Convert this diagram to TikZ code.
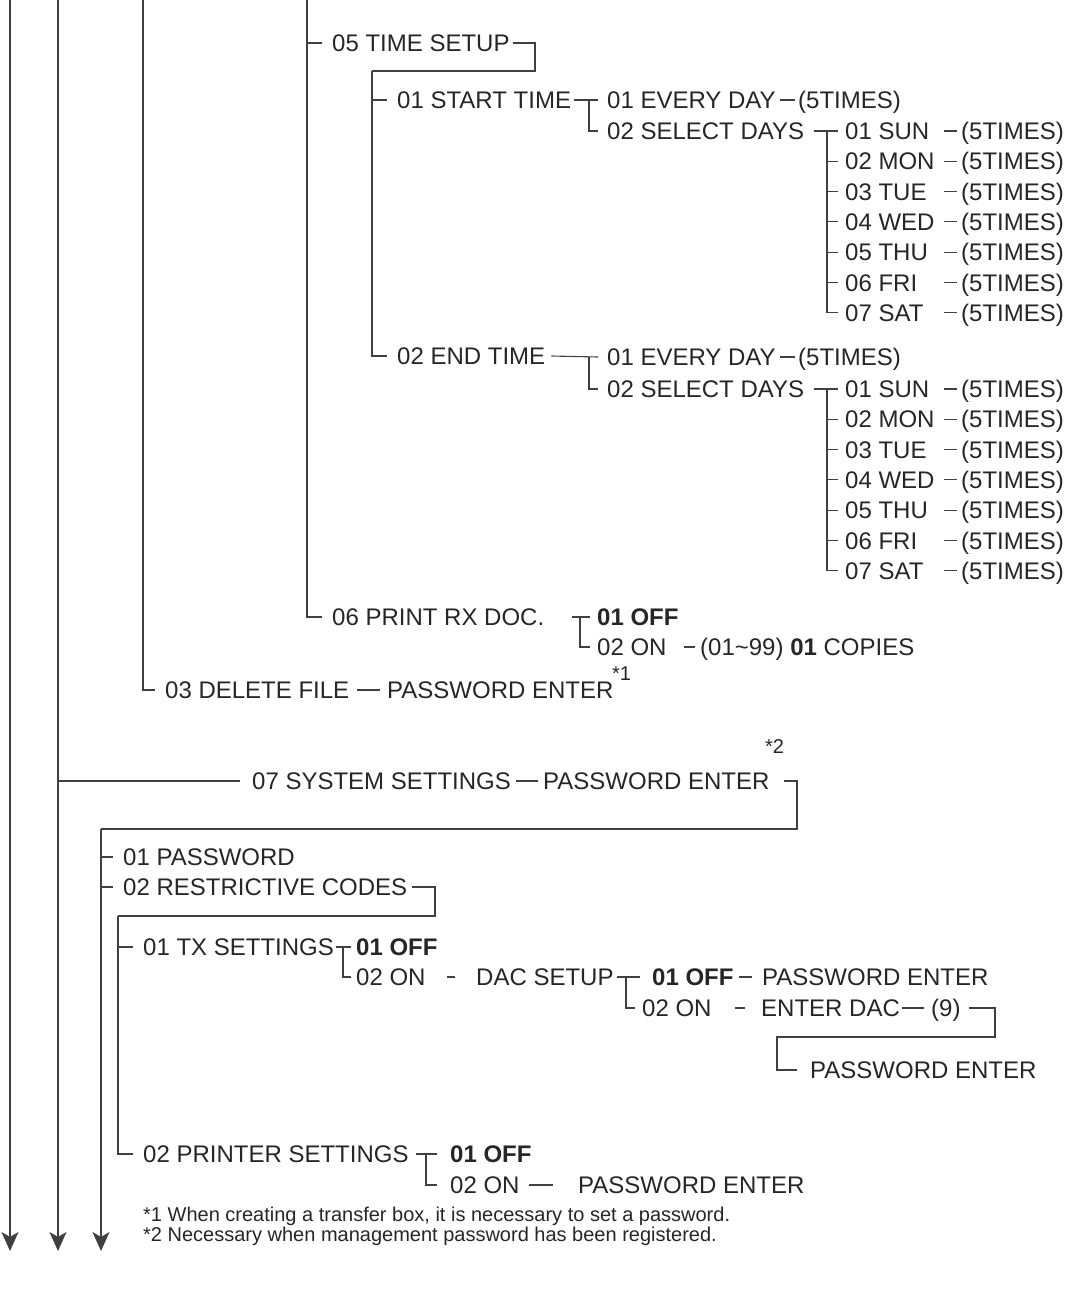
\documentclass[tikz,border=0pt]{standalone}
\usepackage{fontspec}
\setmainfont{Liberation Sans}
\usetikzlibrary{arrows.meta}
\begin{document}
\begin{tikzpicture}[x=1pt,y=-1pt,
  txt/.style={font=\fontsize{24pt}{28pt}\selectfont, inner sep=0pt, text height=17.2pt, text depth=0pt, anchor=west, text=black!85},
  note/.style={font=\fontsize{20pt}{24pt}\selectfont, inner sep=0pt, text height=14.3pt, text depth=0pt, anchor=west, text=black!85},
  ln/.style={draw=black!75, line width=1.1pt},
  arr/.style={ln, -{Stealth[length=19pt,width=17pt,inset=5pt]}},
]
\useasboundingbox (0,0) rectangle (1075,1299);

% trunks
\coordinate (T1) at (10,0);
\coordinate (T2) at (58,0);
\coordinate (T3) at (143,0);
\coordinate (T4) at (307,0);
\coordinate (E1) at (10,1251);
\coordinate (E2) at (58,1251);
\coordinate (E3) at (101,1251);

% ---------- TIME SETUP ----------
\node[txt] (n05) at (332,43) {05 TIME SETUP};
\node[txt] (nST) at (397,100) {01 START TIME};
\node[txt] (sEv) at (607,100) {01 EVERY DAY};
\node[txt] (sEvT) at (798,100) {(5TIMES)};
\node[txt] (sSel) at (607,131) {02 SELECT DAYS};
\node[txt] (nET) at (397,356) {02 END TIME};
\node[txt] (eEv) at (607,357) {01 EVERY DAY};
\node[txt] (eEvT) at (798,357) {(5TIMES)};
\node[txt] (eSel) at (607,389) {02 SELECT DAYS};

\foreach \i/\d in {1/01 SUN,2/02 MON,3/03 TUE,4/04 WED,5/05 THU,6/06 FRI,7/07 SAT}{
  \node[txt] (sd\i) at (845,{131+30.3*(\i-1)}) {\d};
  \node[txt] (sdT\i) at (961,{131+30.3*(\i-1)}) {(5TIMES)};
  \node[txt] (ed\i) at (845,{389+30.3*(\i-1)}) {\d};
  \node[txt] (edT\i) at (961,{389+30.3*(\i-1)}) {(5TIMES)};
}

% ---------- PRINT RX DOC ----------
\node[txt] (n06) at (332,617) {06 PRINT RX DOC.};
\node[txt] (pOff) at (597,617) {\textbf{01 OFF}};
\node[txt] (pOn) at (597,647) {02 ON};
\node[txt] (pCop) at (700,647) {(01\textasciitilde 99) \textbf{01} COPIES};

% ---------- DELETE FILE ----------
\node[txt] (n03) at (165,690) {03 DELETE FILE};
\node[txt] (n03pw) at (387,690) {PASSWORD ENTER};
\node[note] (fn1) at (612,673) {*1};

% ---------- SYSTEM SETTINGS ----------
\node[txt] (n07) at (252,781) {07 SYSTEM SETTINGS};
\node[txt] (n07pw) at (543,781) {PASSWORD ENTER};
\node[note] (fn2) at (765,746) {*2};
\node[txt] (n71) at (123,857) {01 PASSWORD};
\node[txt] (n72) at (123,887) {02 RESTRICTIVE CODES};
\node[txt] (nTX) at (143,947) {01 TX SETTINGS};
\node[txt] (tOff) at (356,947) {\textbf{01 OFF}};
\node[txt] (tOn) at (356,977) {02 ON};
\node[txt] (tDac) at (476,977) {DAC SETUP};
\node[txt] (dOff) at (652,977) {\textbf{01 OFF}};
\node[txt] (dOffPw) at (762,977) {PASSWORD ENTER};
\node[txt] (dOn) at (642,1008) {02 ON};
\node[txt] (dEnt) at (761,1008) {ENTER DAC};
\node[txt] (d9) at (931,1008) {(9)};
\node[txt] (dPw) at (810,1070) {PASSWORD ENTER};
\node[txt] (nPR) at (143,1154) {02 PRINTER SETTINGS};
\node[txt] (rOff) at (450,1154) {\textbf{01 OFF}};
\node[txt] (rOn) at (450,1185) {02 ON};
\node[txt] (rPw) at (578,1185) {PASSWORD ENTER};

\node[note] (fa) at (143,1214) {*1 When creating a transfer box, it is necessary to set a password.};
\node[note] (fb) at (143,1234) {*2 Necessary when management password has been registered.};

% ---------- connectors ----------
\draw[arr] (T1) -- (E1);
\draw[arr] (T2) -- (E2);
\draw[ln] (T2 |- n07.west) -- ([xshift=-12pt]n07.west);
\draw[ln] (T3) |- ([xshift=-10pt]n03.west);
\draw[ln] (T4) |- ([xshift=-10pt]n05.west);
\draw[ln] (T4) |- ([xshift=-10pt]n06.west);

\coordinate (b05) at (372,71);
\draw[ln] ([xshift=3pt]n05.east) -| (535,71) -- (b05);
\draw[ln] (b05) |- ([xshift=-10pt]nST.west);
\draw[ln] (b05) |- ([xshift=-10pt]nET.west);

\draw[ln] ([xshift=3pt]nST.east) -- ([xshift=-9pt]sEv.west);
\draw[ln] ([xshift=-18pt]sEv.west) |- ([xshift=-9pt]sSel.west);
\draw[ln] ([xshift=4pt]sEv.east) -- ([xshift=-3pt]sEvT.west);
\draw[ln] ([xshift=10pt]sSel.east) -- ([xshift=-7pt]sd1.west);

\draw[ln] ([xshift=6pt]nET.east) -- ([xshift=-9pt]eEv.west);
\draw[ln] ([xshift=-18pt]eEv.west) |- ([xshift=-9pt]eSel.west);
\draw[ln] ([xshift=4pt]eEv.east) -- ([xshift=-3pt]eEvT.west);
\draw[ln] ([xshift=10pt]eSel.east) -- ([xshift=-7pt]ed1.west);

\foreach \i in {1,...,7}{
  \draw[ln] ([xshift=-18pt]sd1.west) |- ([xshift=-7pt]sd\i.west);
  \draw[ln] ([xshift=-17pt]sdT\i.west) -- ([xshift=-4pt]sdT\i.west);
  \draw[ln] ([xshift=-18pt]ed1.west) |- ([xshift=-7pt]ed\i.west);
  \draw[ln] ([xshift=-17pt]edT\i.west) -- ([xshift=-4pt]edT\i.west);
}

\draw[ln] ([xshift=28pt]n06.east) -- ([xshift=-7pt]pOff.west);
\draw[ln] ([xshift=-17pt]pOff.west) |- ([xshift=-7pt]pOn.west);
\draw[ln] ([xshift=17pt]pOn.east) -- ([xshift=-5pt]pCop.west);

\draw[ln] ([xshift=8pt]n03.east) -- ([xshift=-7pt]n03pw.west);

\draw[ln] ([xshift=5pt]n07.east) -- ([xshift=-5pt]n07pw.west);
\coordinate (b07) at (101,829);
\draw[ln] ([xshift=14pt]n07pw.east) -| (797,829) -- (b07);
\draw[arr] (b07) -- (E3);
\draw[ln] (b07) |- ([xshift=-10pt]n71.west);
\draw[ln] (b07) |- ([xshift=-10pt]n72.west);
\coordinate (b72) at (118,916);
\draw[ln] ([xshift=5pt]n72.east) -| (435,916) -- (b72);
\draw[ln] (b72) |- ([xshift=-10pt]nTX.west);
\draw[ln] (b72) |- ([xshift=-10pt]nPR.west);

\draw[ln] ([xshift=2pt]nTX.east) -- ([xshift=-5pt]tOff.west);
\draw[ln] ([xshift=-13pt]tOff.west) |- ([xshift=-5pt]tOn.west);
\draw[ln] ([xshift=21pt]tOn.east) -- ([xshift=-21pt]tDac.west);
\draw[ln] ([xshift=3pt]tDac.east) -- ([xshift=-12pt]dOff.west);
\draw[ln] ([xshift=-26pt]dOff.west) |- ([xshift=-7pt]dOn.west);
\draw[ln] ([xshift=5pt]dOff.east) -- ([xshift=-10pt]dOffPw.west);
\draw[ln] ([xshift=23pt]dOn.east) -- ([xshift=-16pt]dEnt.west);
\draw[ln] ([xshift=2pt]dEnt.east) -- ([xshift=-7pt]d9.west);
\draw[ln] ([xshift=8pt]d9.east) -| (995,1037) -- (777,1037) |- ([xshift=-13pt]dPw.west);

\draw[ln] ([xshift=7pt]nPR.east) -- ([xshift=-13pt]rOff.west);
\draw[ln] ([xshift=-24pt]rOff.west) |- ([xshift=-13pt]rOn.west);
\draw[ln] ([xshift=9pt]rOn.east) -- ([xshift=-25pt]rPw.west);
\end{tikzpicture}
\end{document}
